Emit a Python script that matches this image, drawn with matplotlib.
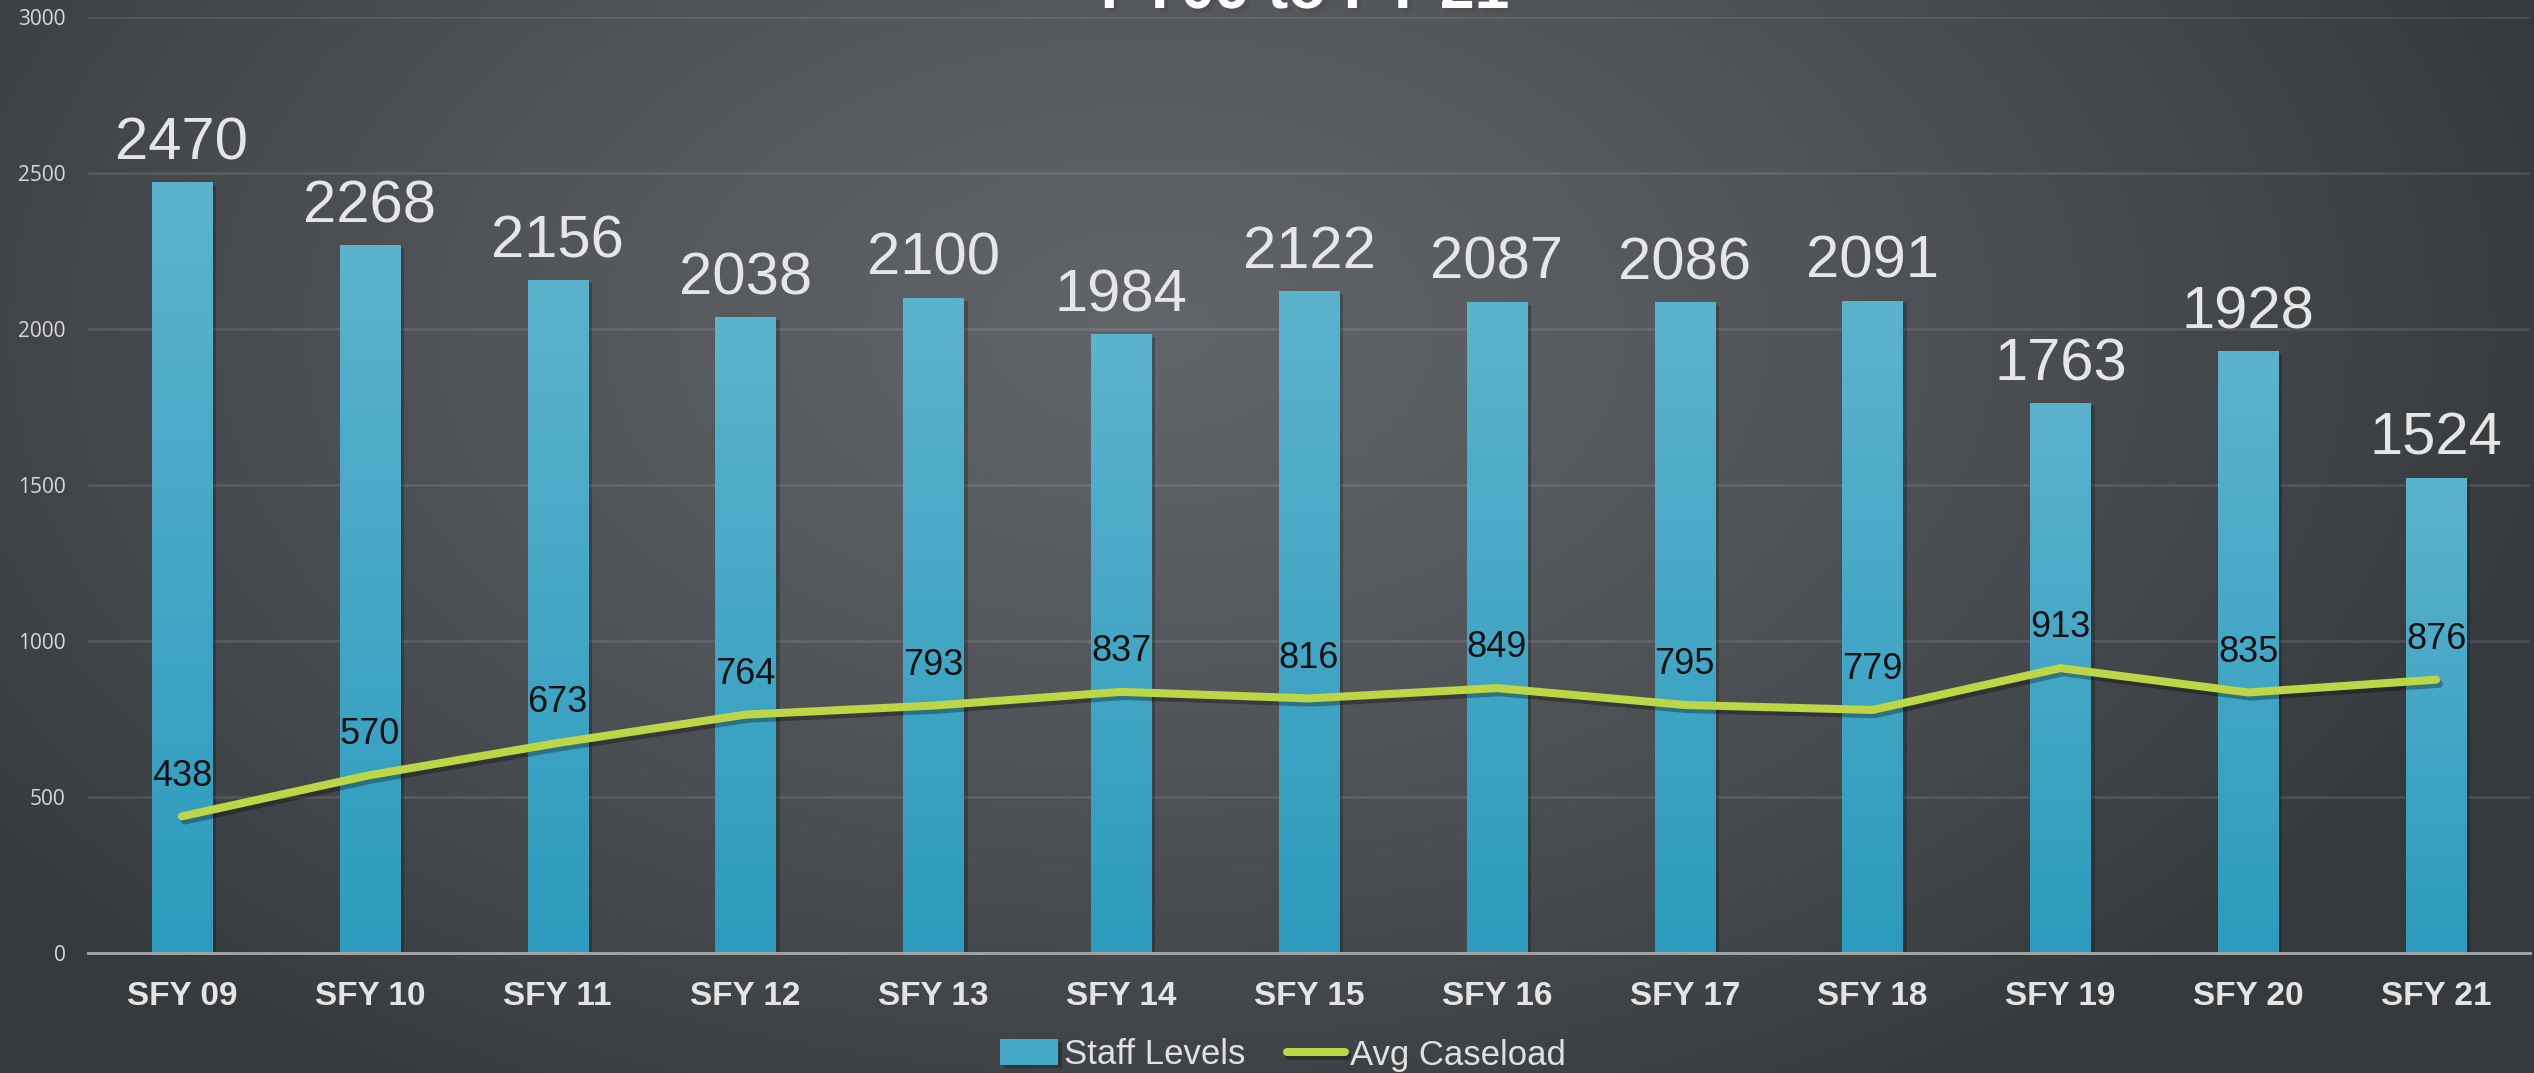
import numpy as np
import matplotlib
matplotlib.use("Agg")
import matplotlib.pyplot as plt
import matplotlib.patheffects as pe
from matplotlib.colors import LinearSegmentedColormap

# ---- data ----
categories = ["SFY 09", "SFY 10", "SFY 11", "SFY 12", "SFY 13", "SFY 14", "SFY 15",
              "SFY 16", "SFY 17", "SFY 18", "SFY 19", "SFY 20", "SFY 21"]
staff_levels = [2470, 2268, 2156, 2038, 2100, 1984, 2122, 2087, 2086, 2091, 1763, 1928, 1524]
avg_caseload = [438, 570, 673, 764, 793, 837, 816, 849, 795, 779, 913, 835, 876]
y_ticks = [0, 500, 1000, 1500, 2000, 2500, 3000]
title_text = "FY09 to FY 21"

W, H = 2534, 1073
fig = plt.figure(figsize=(W / 100, H / 100), dpi=100)

# ---- background radial gradient ----
bg = fig.add_axes([0, 0, 1, 1], zorder=-10)
bg.set_axis_off()
yy, xx = np.mgrid[0:H, 0:W]
cx, cy = 1150, 330
r = np.sqrt(((xx - cx) / 1450.0) ** 2 + ((yy - cy) / 900.0) ** 2)
t = np.clip(r, 0, 1) ** 1.2
light = np.array([0x61, 0x64, 0x69]) / 255.0
dark = np.array([0x37, 0x3a, 0x3d]) / 255.0
img = light[None, None, :] * (1 - t[..., None]) + dark[None, None, :] * t[..., None]
bg.imshow(img, extent=(0, 1, 0, 1), aspect="auto", origin="upper")
bg.set_xlim(0, 1)
bg.set_ylim(0, 1)

# ---- main axes ----
ax = fig.add_axes([88 / W, 1 - 953 / H, (2530 - 88) / W, (953 - 17) / H])
ax.patch.set_alpha(0)
x = np.arange(len(categories))
bar_w = 0.32
bars = ax.bar(x, staff_levels, width=bar_w, color="#45a9c8", zorder=3,
              label="Staff Levels")
for b in bars:
    b.set_path_effects([pe.SimplePatchShadow(offset=(3, -2), shadow_rgbFace="black", alpha=0.22),
                        pe.Normal()])

bar_cmap = LinearSegmentedColormap.from_list("barg", ["#2c9bbd", "#5cb3ce"])
grad = np.linspace(0, 1, 256).reshape(-1, 1)
for b in bars:
    bx, bw, bh = b.get_x(), b.get_width(), b.get_height()
    im = ax.imshow(grad, cmap=bar_cmap, extent=(bx, bx + bw, 0, bh), origin="lower",
                   aspect="auto", zorder=3.1)
    im.set_clip_path(b)

line, = ax.plot(x, avg_caseload, color="#bdd645", lw=5.8, solid_capstyle="round",
                solid_joinstyle="round", zorder=5, label="Avg Caseload",
                path_effects=[pe.SimpleLineShadow(offset=(2, -3), shadow_color="black", alpha=0.3),
                              pe.Normal()])

# labels
for xi, v in zip(x, staff_levels):
    ax.annotate(str(v), (xi, v), xytext=(0, 16.5), textcoords="offset points",
                ha="center", va="baseline", fontsize=43, color="#e6e6e6",
                family=["Liberation Sans"], zorder=6)
for xi, v in zip(x, avg_caseload):
    ax.annotate(str(v), (xi, v), xytext=(0, 29), textcoords="offset points",
                ha="center", va="center", fontsize=26, color="#111111",
                family=["Liberation Sans"], zorder=6)

ax.set_xlim(-0.5, 12.5)
ax.set_ylim(0, 3000)
ax.set_yticks(y_ticks)
ax.set_yticklabels([str(v) for v in y_ticks], fontsize=15, color="#d8d8d8",
                   family=["Open Sans"])
ax.set_xticks(x)
ax.set_xticklabels(categories, fontsize=24, fontweight="bold", color="#e4e4e4",
                   family=["Liberation Sans"])
ax.tick_params(axis="both", length=0)
ax.tick_params(axis="x", pad=20)
ax.tick_params(axis="y", pad=16)
for s in ["top", "right", "left"]:
    ax.spines[s].set_visible(False)
ax.spines["bottom"].set_color("#a8a8a8")
ax.spines["bottom"].set_linewidth(2)
ax.spines["bottom"].set_zorder(4)
ax.yaxis.grid(True, color="white", alpha=0.1, lw=2)
ax.set_axisbelow(True)

# title (mostly cut off at top)
fig.text(1305 / W, 1 - 8 / H, title_text, ha="center", va="baseline", fontsize=45,
         fontweight="bold", color="white", family=["Liberation Sans"],
         path_effects=[pe.withSimplePatchShadow(offset=(3, -3), alpha=0.5)])

# legend
leg = fig.legend(handles=[bars, line], labels=["Staff Levels", "Avg Caseload"],
                 loc="center", bbox_to_anchor=(1283 / W, 1 - 1055 / H), ncol=2,
                 frameon=False, prop={"family": ["Liberation Sans"], "size": 25},
                 labelcolor="#e0e0e0", handlelength=1.67, handleheight=0.78,
                 handletextpad=0.17, columnspacing=1.2, borderaxespad=0)

fig.savefig("out.png", dpi=100)
